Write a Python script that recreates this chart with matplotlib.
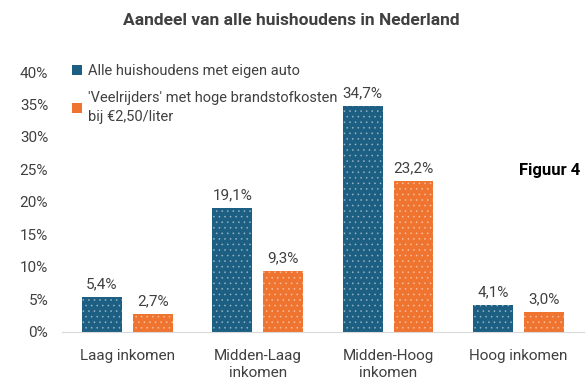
import matplotlib
matplotlib.use("Agg")
import matplotlib.pyplot as plt
from matplotlib.patches import Patch
import numpy as np

plt.rcParams['font.family'] = ['Roboto', 'DejaVu Sans']

categories = ["Laag inkomen", "Midden-Laag\ninkomen", "Midden-Hoog\ninkomen", "Hoog inkomen"]
alle = [5.4, 19.1, 34.7, 4.1]
veelrijders = [2.7, 9.3, 23.2, 3.0]
series_names = ["Alle huishoudens met eigen auto",
                "'Veelrijders' met hoge brandstofkosten\nbij €2,50/liter"]

blue = "#1c5f82"
orange = "#ef7430"
grey = "#404040"

fig = plt.figure(figsize=(5.86, 3.81), dpi=100)
ax = fig.add_axes([0.106, 0.129, 0.89, 0.682])

x = np.arange(len(categories))
w = 0.305
off = 0.195
plt.rcParams['hatch.linewidth'] = 0.5
b1 = ax.bar(x - off, alle, w, color=blue, edgecolor=(1, 1, 1, 0.4), linewidth=0, hatch='...')
b2 = ax.bar(x + off, veelrijders, w, color=orange, edgecolor=(1, 1, 1, 0.4), linewidth=0, hatch='...')

for bars in (b1, b2):
    for r in bars:
        ax.text(r.get_x() + r.get_width() / 2, r.get_height() + 0.9,
                f"{r.get_height():.1f}%".replace(".", ","),
                ha='center', va='bottom', fontsize=11, color=grey)

ax.set_xlim(-0.5, 3.5)
ax.set_ylim(0, 40)
ax.set_yticks(range(0, 41, 5))
ax.set_yticklabels([f"{v}%" for v in range(0, 41, 5)])
ax.set_xticks(x)
ax.set_xticklabels(categories, linespacing=1.35)
ax.tick_params(axis='both', length=0, labelsize=11, labelcolor=grey)
ax.tick_params(axis='y', pad=10)
ax.tick_params(axis='x', pad=12)
for s in ['top', 'right', 'left']:
    ax.spines[s].set_visible(False)
ax.spines['bottom'].set_color('#d9d9d9')

handles = [Patch(facecolor=blue), Patch(facecolor=orange)]
leg = ax.legend(handles, series_names, loc='upper left', bbox_to_anchor=(0.0, 1.07),
                frameon=False, fontsize=10.5, labelcolor=grey, handlelength=0.65,
                handleheight=0.65, handletextpad=0.45, labelspacing=0.9, borderaxespad=0.3)
for t in leg.get_texts():
    t.set_linespacing(1.45)

fig.text(0.497, 0.945, "Aandeel van alle huishoudens in Nederland", ha='center', va='center',
         fontsize=12.5, fontweight='bold', color=grey)
fig.text(0.99, 0.553, "Figuur 4", ha='right', va='center', fontsize=12,
         fontweight='bold', color='black')

fig.savefig("out.png", dpi=100)
